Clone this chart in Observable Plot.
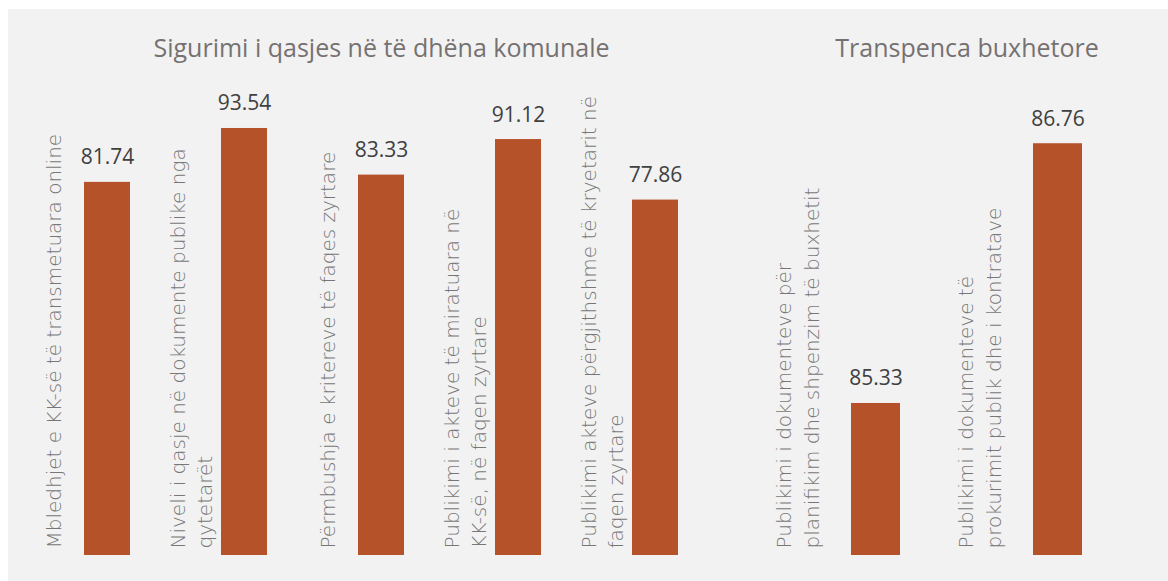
<!DOCTYPE html>
<html>
<head>
<meta charset="utf-8">
<script src="https://cdn.jsdelivr.net/npm/d3@7"></script>
<script src="https://cdn.jsdelivr.net/npm/@observablehq/plot@0.6"></script>
<style>
  html, body { margin: 0; padding: 0; background: #ffffff; }
  #wrap { position: relative; width: 1168px; height: 581px; background: #ffffff; overflow: hidden; }
  #panel { position: absolute; left: 8px; top: 9px; width: 1160px; height: 572px; background: #f2f2f2; }
  .chart { position: absolute; top: 9px; }
  #c1 { left: 8px; }
  #c2 { left: 748px; }
</style>
</head>
<body>
<div id="wrap">
  <div id="panel"></div>
  <div id="c1" class="chart"></div>
  <div id="c2" class="chart"></div>
</div>
<script>
// ---- data ----
const groupTitles = ["Sigurimi i qasjes në të dhëna komunale", "Transpenca buxhetore"];

const categories1 = [
  "Mbledhjet e KK-së të transmetuara online",
  "Niveli i qasje në dokumente publike nga\nqytetarët",
  "Përmbushja e kritereve të faqes zyrtare",
  "Publikimi i akteve të miratuara në\nKK-së, në faqen zyrtare",
  "Publikimi akteve përgjithshme të kryetarit në\nfaqen zyrtare"
];
const values1 = [81.74, 93.54, 83.33, 91.12, 77.86];
const valueLabels1 = ["81.74", "93.54", "83.33", "91.12", "77.86"];

const categories2 = [
  "Publikimi i dokumenteve për\nplanifikim dhe shpenzim të buxhetit",
  "Publikimi i dokumenteve të\nprokurimit publik dhe i kontratave"
];
// bar heights as drawn in the picture (the printed labels differ)
const values2 = [33.3, 90.2];
const valueLabels2 = ["85.33", "86.76"];

// ---- styles ----
const barColor = "#b5522a";
const labelFont = "DejaVu Sans, sans-serif";
const numFont = "Open Sans, sans-serif";

function makeChart({title, categories, values, valueLabels, width, marginLeft, marginRight, paddingInner, paddingOuter, labelDx}) {
  const data = categories.map((c, i) => ({cat: c, value: values[i], label: valueLabels[i]}));
  return Plot.plot({
    width,
    height: 572,
    marginLeft,
    marginRight,
    marginTop: 89.5,
    marginBottom: 26,
    style: {background: "transparent", overflow: "visible"},
    x: {domain: categories, paddingInner, paddingOuter, axis: null},
    y: {domain: [0, 100], axis: null},
    marks: [
      Plot.barY(data, {x: "cat", y: "value", fill: barColor}),
      Plot.text(data, {
        x: "cat", y: "value", text: "label", dy: -18, lineAnchor: "bottom",
        fontFamily: numFont, fontSize: 21, fill: "#404040"
      }),
      Plot.text(data, {
        x: "cat", y: () => 0, text: "cat", rotate: -90, textAnchor: "start",
        lineAnchor: "middle", lineHeight: 1.375, dx: labelDx, dy: -7,
        fontFamily: labelFont, fontSize: 20, fontWeight: 300, fill: "#777777"
      }),
      Plot.text([title], {
        text: d => d, frameAnchor: "top", lineAnchor: "bottom", dy: -41.8,
        fontFamily: numFont, fontSize: 25, fill: "#767171"
      })
    ]
  });
}

document.getElementById("c1").appendChild(makeChart({
  title: groupTitles[0], categories: categories1, values: values1, valueLabels: valueLabels1,
  width: 740, marginLeft: 29, marginRight: 23, paddingInner: 0.665, paddingOuter: 0.335, labelDx: -55
}));
document.getElementById("c2").appendChild(makeChart({
  title: groupTitles[1], categories: categories2, values: values2, valueLabels: valueLabels2,
  width: 420, marginLeft: 36, marginRight: 19, paddingInner: 0.7315, paddingOuter: 0.366, labelDx: -80
}));
</script>
</body>
</html>
